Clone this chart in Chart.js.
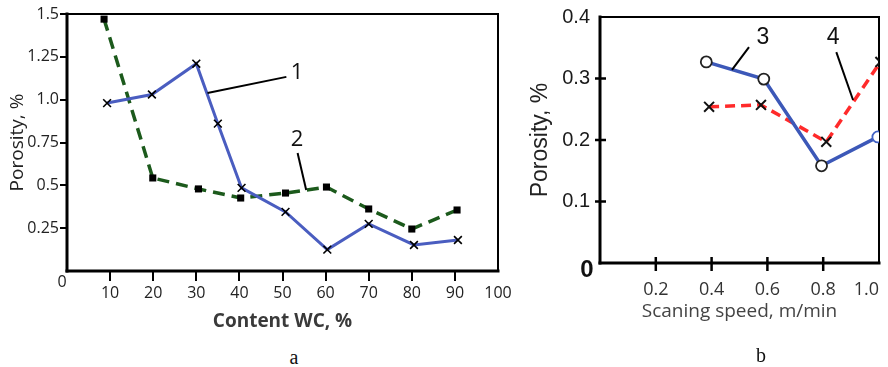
<!DOCTYPE html>
<html><head><meta charset="utf-8">
<script src="https://cdn.jsdelivr.net/npm/chart.js@4/dist/chart.umd.min.js"></script>
<style>
html,body{margin:0;padding:0;background:#fff;width:888px;height:367px;overflow:hidden;position:relative}
#ca{position:absolute;left:0;top:0}
#cb{position:absolute;left:500px;top:0}
.cap{position:absolute;font-family:"Liberation Serif",serif;font-size:20px;color:#111;transform:translate(-50%,-50%);line-height:1}
</style></head><body>
<canvas id="ca" width="520" height="340"></canvas>
<canvas id="cb" width="388" height="340"></canvas>
<div class="cap" style="left:294px;top:357px">a</div>
<div class="cap" style="left:761px;top:355px">b</div>
<script>
// ---- data ----
const contentWC1 = [9.3, 19.7, 30, 35, 40.5, 50.7, 60.4, 70, 80.5, 90.7];
const porosity1  = [0.98, 1.03, 1.21, 0.86, 0.485, 0.345, 0.125, 0.275, 0.152, 0.181];
const contentWC2 = [8.6, 19.9, 30.5, 40.3, 50.7, 60.2, 70, 80, 90.5];
const porosity2  = [1.47, 0.543, 0.479, 0.426, 0.455, 0.49, 0.362, 0.245, 0.356];
const speed3     = [0.381, 0.587, 0.794, 0.996];
const porosity3  = [0.327, 0.299, 0.158, 0.205];
const speed4     = [0.391, 0.577, 0.811, 1.005];
const porosity4  = [0.254, 0.257, 0.197, 0.327];

const leftYTicks  = [0.25, 0.5, 0.75, 1.0, 1.25, 1.5];
const leftYLabels = ['0.25', '0.5', '0.75', '1.0', '1.25', '1.5'];
const leftXTicks  = [0, 10, 20, 30, 40, 50, 60, 70, 80, 90, 100];
const leftXLabels = ['', '10', '20', '30', '40', '50', '60', '70', '80', '90', '100'];
const rightYTicks  = [0.1, 0.2, 0.3, 0.4];
const rightYLabels = ['0.1', '0.2', '0.3', '0.4'];
const rightXTicks  = [0, 0.2, 0.4, 0.6, 0.8, 1.0];
const rightXLabels = ['', '0.2', '0.4', '0.6', '0.8', '1.0'];

// curve-number annotations (data units)
const leftNotes  = {lines: [[32.6, 1.039, 50.9, 1.133], [53.5, 0.689, 55.5, 0.473]],
                    labels: [['1', 53.4, 1.156], ['2', 53.4, 0.765]]};
const rightNotes = {lines: [[0.473, 0.314, 0.534, 0.351], [0.847, 0.343, 0.907, 0.265]],
                    labels: [['3', 0.584, 0.367], ['4', 0.836, 0.366]]};

const pts = (xs, ys) => xs.map((x, i) => ({x, y: ys[i]}));

function decorPlugin(cfg) {
  return {
    id: 'decor',
    beforeDatasetsDraw(chart) {
      const {ctx, chartArea: a, scales} = chart;
      ctx.save();
      ctx.strokeStyle = '#000';
      ctx.lineCap = 'square';
      const seg = (x1, y1, x2, y2, w) => { ctx.lineWidth = w; ctx.beginPath(); ctx.moveTo(x1, y1); ctx.lineTo(x2, y2); ctx.stroke(); };
      const b = cfg.frame;
      seg(a.left, a.top, a.right, a.top, b.top);
      seg(a.right, a.top, a.right, a.bottom, b.right);
      seg(a.left, a.bottom, a.right, a.bottom, b.bottom);
      seg(a.left, a.top, a.left, a.bottom, b.left);
      if (cfg.crossTicks) {
        ctx.lineCap = 'butt';
        cfg.crossTicks.y.forEach(v => { const py = scales.y.getPixelForValue(v); seg(a.left - 5, py, a.left + 6, py, 2.5); });
        cfg.crossTicks.x.forEach(v => { const px = scales.x.getPixelForValue(v); seg(px, a.bottom - 6, px, a.bottom + 8, 2.5); });
      }
      const z = cfg.zero;
      ctx.fillStyle = z.color; ctx.font = z.font; ctx.textAlign = 'center'; ctx.textBaseline = 'middle';
      ctx.fillText('0', a.left + z.dx, a.bottom + z.dy);
      ctx.restore();
    },
    afterDatasetsDraw(chart) {
      const {ctx, scales} = chart;
      const n = cfg.notes;
      ctx.save();
      ctx.strokeStyle = '#000'; ctx.lineWidth = 2;
      n.lines.forEach(([x1, y1, x2, y2]) => {
        ctx.beginPath();
        ctx.moveTo(scales.x.getPixelForValue(x1), scales.y.getPixelForValue(y1));
        ctx.lineTo(scales.x.getPixelForValue(x2), scales.y.getPixelForValue(y2));
        ctx.stroke();
      });
      ctx.fillStyle = '#111'; ctx.font = cfg.noteFont; ctx.textAlign = 'center'; ctx.textBaseline = 'middle';
      n.labels.forEach(([t, x, y]) => ctx.fillText(t, scales.x.getPixelForValue(x), scales.y.getPixelForValue(y)));
      ctx.restore();
    }
  };
}

// ---- chart a ----
new Chart(document.getElementById('ca'), {
  type: 'line',
  data: {
    datasets: [
      {label: '1', data: pts(contentWC1, porosity1), borderColor: '#4a5dc0', borderWidth: 3,
       pointStyle: 'crossRot', pointRadius: 5.5, pointBorderColor: '#000', pointBorderWidth: 1.6,
       pointBackgroundColor: '#000', tension: 0},
      {label: '2', data: pts(contentWC2, porosity2), borderColor: '#1c5a1c', borderWidth: 3.5, borderDash: [12, 7],
       pointStyle: 'rect', pointRadius: 5, pointBorderColor: '#000', pointBorderWidth: 0,
       pointBackgroundColor: '#000', tension: 0}
    ]
  },
  options: {
    responsive: false, animation: false, devicePixelRatio: 1,
    layout: {padding: {left: 0, top: 14, right: 22, bottom: 0}},
    plugins: {legend: {display: false}, tooltip: {enabled: false}},
    scales: {
      x: {
        type: 'linear', min: 0, max: 100,
        afterBuildTicks: s => { s.ticks = leftXTicks.map(v => ({value: v})); },
        afterFit: s => { s.height = 69; s.paddingLeft = 0; s.paddingRight = 0; },
        border: {display: false},
        grid: {drawOnChartArea: false, drawTicks: true, tickLength: 10, lineWidth: 2,
               tickColor: c => (c.tick && (c.tick.value === 0 || c.tick.value === 100)) ? 'rgba(0,0,0,0)' : '#000'},
        ticks: {callback: (v, i) => leftXLabels[i], maxRotation: 0, autoSkip: false, padding: 3,
                color: '#222', font: {family: 'Open Sans', size: 16}},
        title: {display: true, text: 'Content WC, %', color: '#3a3a3a',
                font: {family: 'Open Sans', size: 19, weight: 'bold'}, padding: {top: 0, bottom: 7}}
      },
      y: {
        type: 'linear', min: 0, max: 1.5,
        afterBuildTicks: s => { s.ticks = leftYTicks.map(v => ({value: v})); },
        afterFit: s => { s.width = 67; s.paddingTop = 0; s.paddingBottom = 0; },
        border: {display: false},
        grid: {drawOnChartArea: false, drawTicks: true, tickLength: 7, lineWidth: 2, tickColor: '#000'},
        ticks: {callback: (v, i) => leftYLabels[i], autoSkip: false, padding: 1,
                color: '#222', font: {family: 'Open Sans', size: 16}},
        title: {display: true, text: 'Porosity, %', color: '#222',
                font: {family: 'Open Sans', size: 19}, padding: {top: 6, bottom: 0}}
      }
    }
  },
  plugins: [decorPlugin({frame: {top: 2, right: 2, bottom: 3, left: 3},
    zero: {dx: -5, dy: 11, font: '16px "Open Sans"', color: '#222'},
    notes: leftNotes, noteFont: '22px "Open Sans"'})]
});

// ---- chart b ----
new Chart(document.getElementById('cb'), {
  type: 'line',
  data: {
    datasets: [
      {label: '3', data: pts(speed3, porosity3), borderColor: '#3c58b8', borderWidth: 3.5,
       pointStyle: 'circle', pointRadius: 5.5, pointBorderWidth: 1.8,
       pointBorderColor: ['#222', '#222', '#222', '#4060c4'], pointBackgroundColor: '#fff', tension: 0},
      {label: '4', data: pts(speed4, porosity4), borderColor: '#ff2a2a', borderWidth: 3.5, borderDash: [10, 6],
       pointStyle: 'crossRot', pointRadius: 7, pointBorderColor: '#111', pointBorderWidth: 2,
       pointBackgroundColor: '#111', tension: 0}
    ]
  },
  options: {
    responsive: false, animation: false, devicePixelRatio: 1,
    layout: {padding: {left: 0, top: 17, right: 7, bottom: 0}},
    plugins: {legend: {display: false}, tooltip: {enabled: false}},
    elements: {line: {}},
    scales: {
      x: {
        type: 'linear', min: 0, max: 1.0,
        afterBuildTicks: s => { s.ticks = rightXTicks.map(v => ({value: v})); },
        afterFit: s => { s.height = 77; s.paddingLeft = 0; s.paddingRight = 0; },
        border: {display: false},
        grid: {drawOnChartArea: false, drawTicks: false},
        ticks: {callback: (v, i) => rightXLabels[i], maxRotation: 0, autoSkip: false, padding: 16, align: 'inner',
                color: '#333', font: {family: 'Open Sans', size: 18}},
        title: {display: true, text: 'Scaning speed, m/min', color: '#444',
                font: {family: 'Open Sans', size: 19}, padding: {top: 0, bottom: 17}}
      },
      y: {
        type: 'linear', min: 0, max: 0.4,
        afterBuildTicks: s => { s.ticks = rightYTicks.map(v => ({value: v})); },
        afterFit: s => { s.width = 100; s.paddingTop = 0; s.paddingBottom = 0; },
        border: {display: false},
        grid: {drawOnChartArea: false, drawTicks: false},
        ticks: {callback: (v, i) => rightYLabels[i], autoSkip: false, padding: 10,
                color: '#1a1a1a', font: {family: 'Liberation Sans', size: 20}},
        title: {display: true, text: 'Porosity, %', color: '#222',
                font: {family: 'Liberation Sans', size: 23}, padding: {top: 27, bottom: 0}}
      }
    }
  },
  plugins: [decorPlugin({frame: {top: 2, right: 2, bottom: 3, left: 3},
    crossTicks: {y: [0.1, 0.2, 0.3], x: [0.2, 0.4, 0.6, 0.8]},
    zero: {dx: -13, dy: 7, font: 'bold 24px "Liberation Sans"', color: '#111'},
    notes: rightNotes, noteFont: '23px "Liberation Sans"'})]
});
</script>
</body></html>
